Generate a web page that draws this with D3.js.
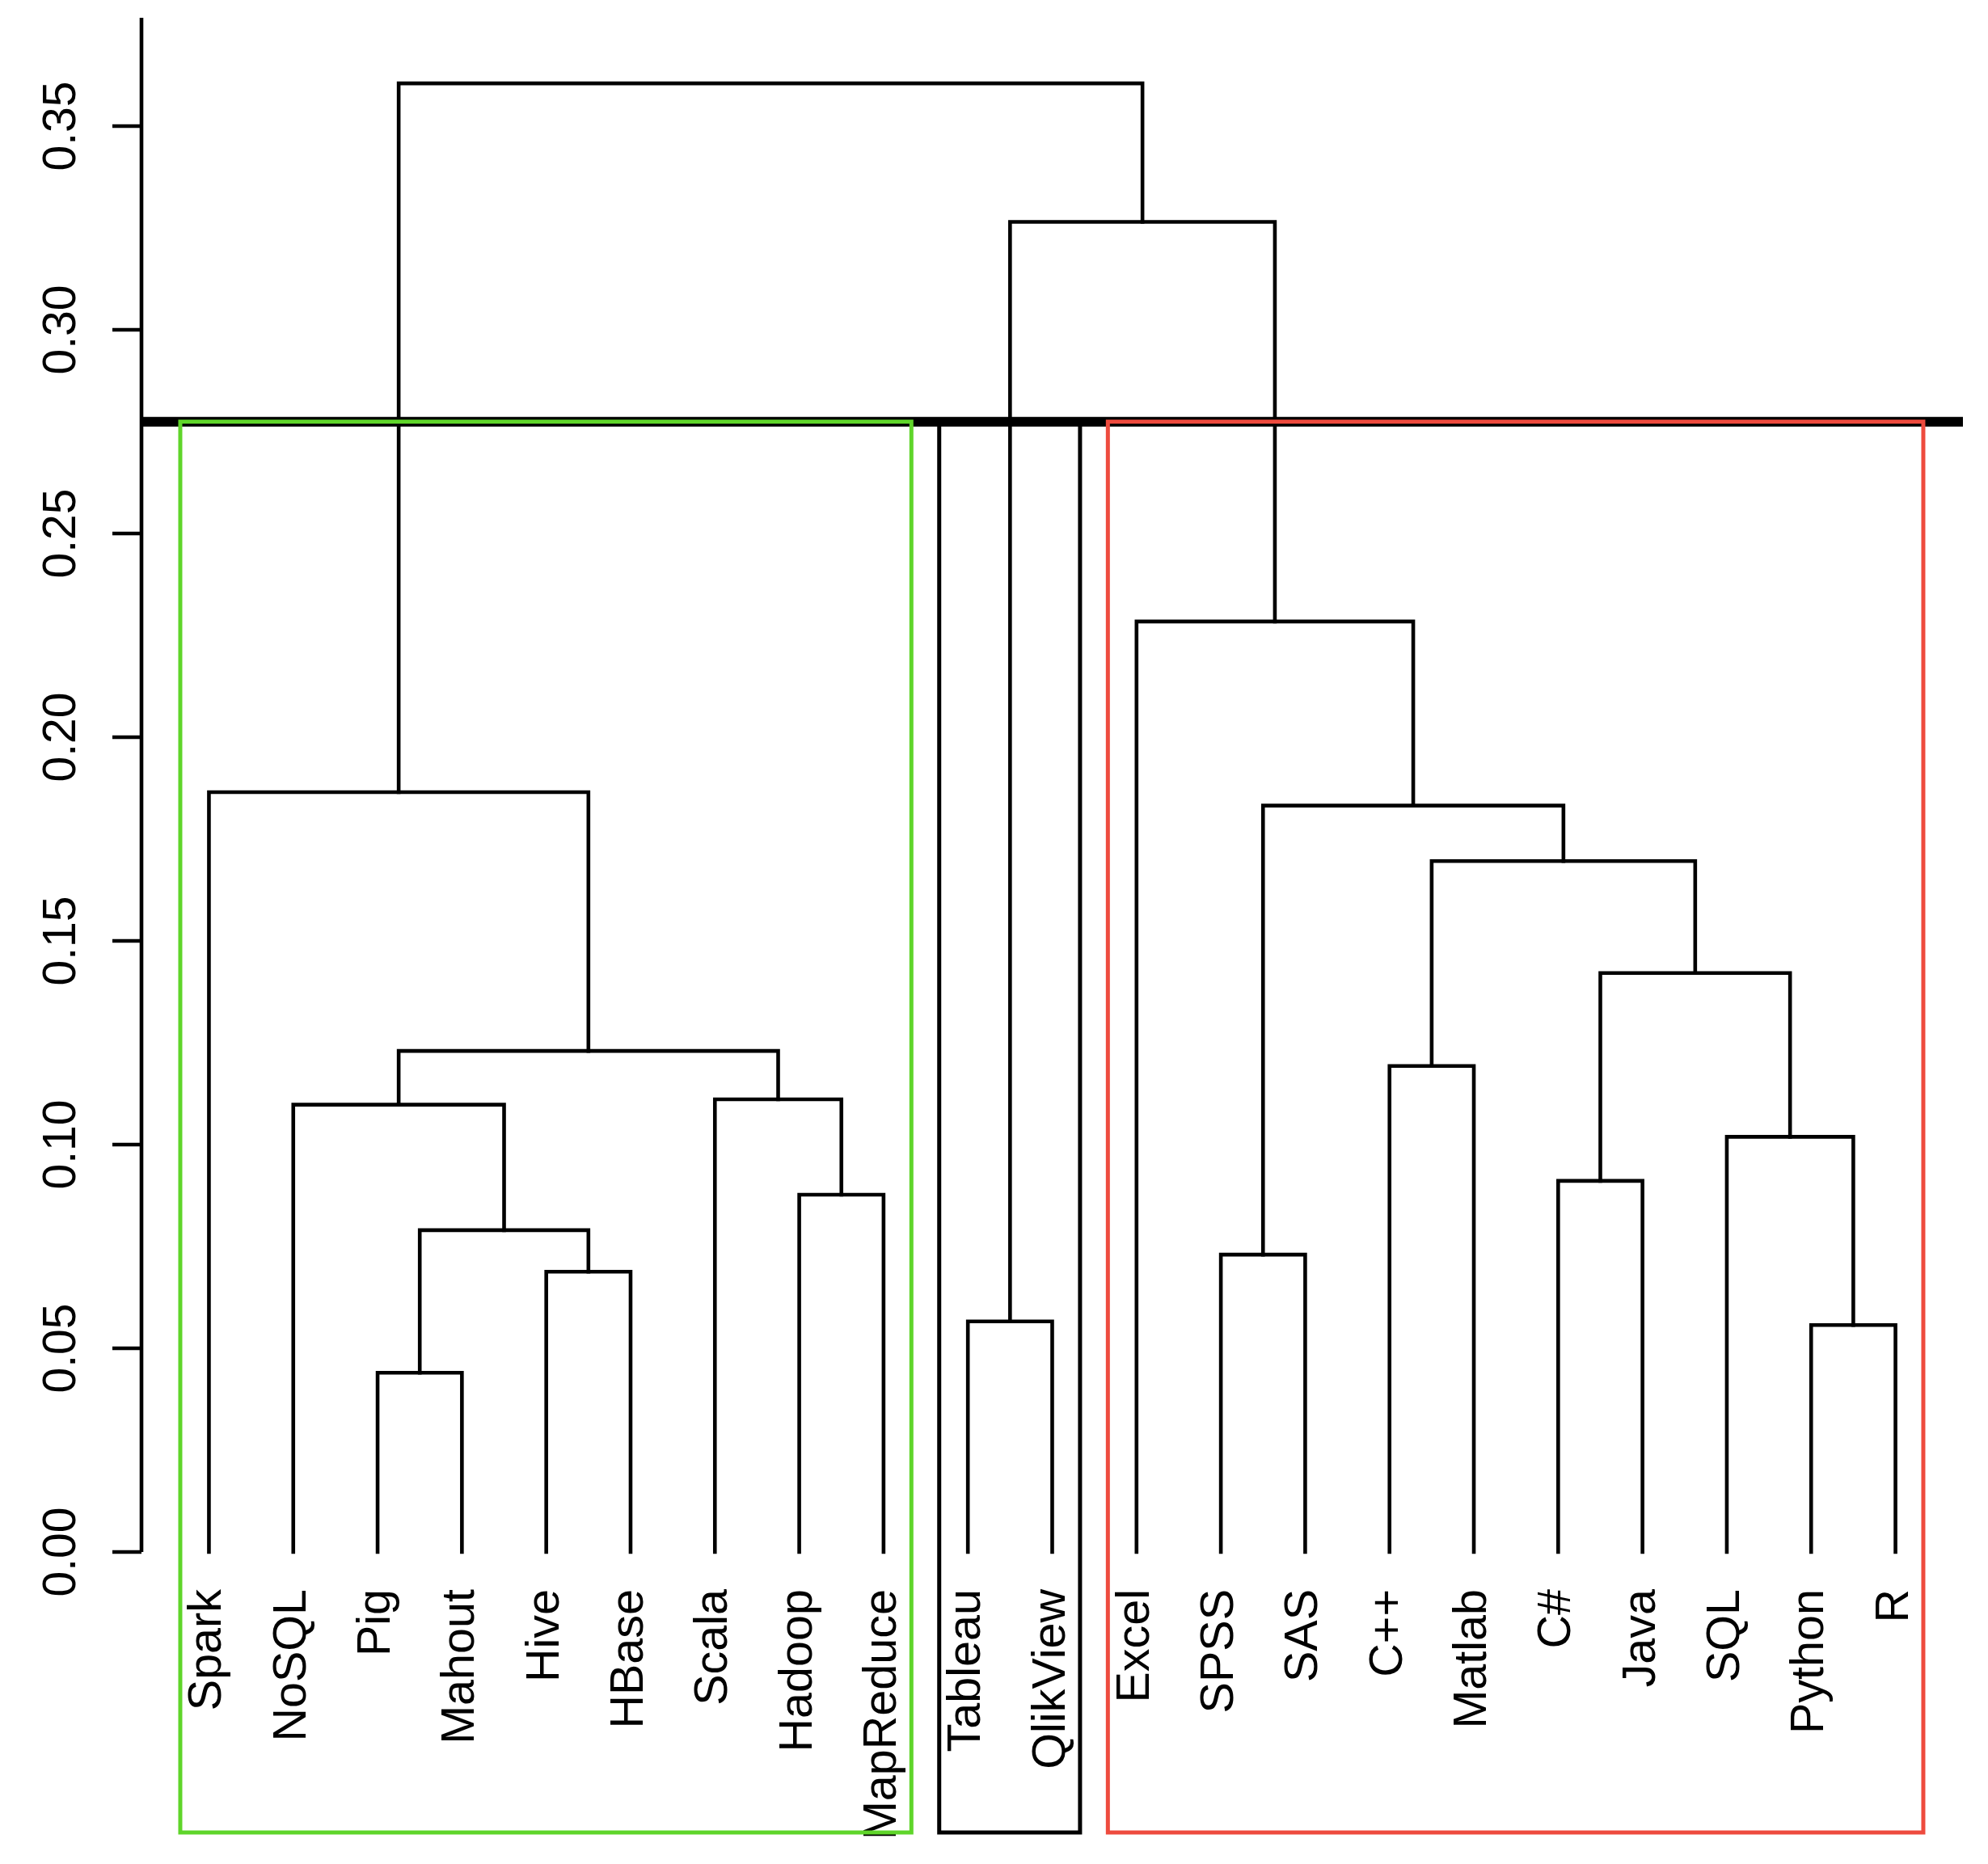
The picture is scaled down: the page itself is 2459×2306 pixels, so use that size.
<!DOCTYPE html>
<html>
<head>
<meta charset="utf-8">
<script src="https://cdn.jsdelivr.net/npm/d3@7"></script>
<style>
  html, body { margin: 0; padding: 0; background: #fff; }
  svg { display: block; }
  text { font-family: "Liberation Sans", Arial, Helvetica, sans-serif; fill: #000; }
</style>
</head>
<body>
<script>
// ---- Data ----
const labels = ["Spark","NoSQL","Pig","Mahout","Hive","HBase","Scala","Hadoop","MapReduce",
                "Tableau","QlikView","Excel","SPSS","SAS","C++","Matlab","C#","Java","SQL","Python","R"];
// R hclust-style merge table: negative = leaf (1-based), positive = earlier merge step
const mergeLeft  = [-3, -20, -10, -5, -13, 1, -8, -17, -19, -2, -7, -15, 10,  8, 12,  5, -1, -12,  3, 17];
const mergeRight = [-4, -21, -11, -6, -14, 4, -9, -18,   2,  6,  7, -16, 11,  9, 14, 15, 13,  16, 18, 19];
const mergeHeight = [0.0440, 0.0557, 0.0566, 0.0688, 0.0730, 0.0790, 0.0877, 0.0911, 0.1019, 0.1098,
                     0.1111, 0.1193, 0.1230, 0.1421, 0.1696, 0.1832, 0.1865, 0.2284, 0.3265, 0.3605];
const yTicks = [0.00, 0.05, 0.10, 0.15, 0.20, 0.25, 0.30, 0.35];
const clusterSizes = [9, 2, 10];
const clusterColors = ["#5FD52A", "#000000", "#EE4B3E"];

// ---- Layout ----
const W = 2459, H = 2306;
const plotLeft = 175, plotRight = 2428, plotBottom = 2267, axisTop = 22;
const x = d3.scaleLinear().domain([0.2, labels.length + 0.8]).range([plotLeft, plotRight]);
const y = d3.scaleLinear().domain([0, 0.35]).range([1920, 156]);

const svg = d3.select("body").append("svg").attr("width", W).attr("height", H);
svg.append("rect").attr("width", W).attr("height", H).attr("fill", "#fff");

// ---- Dendrogram ----
const nodeX = [], nodeH = [];
function childPos(c) {
  return c < 0 ? { x: -c, h: 0 } : { x: nodeX[c - 1], h: nodeH[c - 1] };
}
const g = svg.append("g").attr("fill", "none").attr("stroke", "#000").attr("stroke-width", 4.6)
  .attr("stroke-linejoin", "miter").attr("stroke-linecap", "square");
mergeHeight.forEach((h, i) => {
  const a = childPos(mergeLeft[i]), b = childPos(mergeRight[i]);
  nodeX.push((a.x + b.x) / 2);
  nodeH.push(h);
  const p = d3.path();
  p.moveTo(x(a.x), y(a.h));
  p.lineTo(x(a.x), y(h));
  p.lineTo(x(b.x), y(h));
  p.lineTo(x(b.x), y(b.h));
  g.append("path").attr("d", p.toString());
});

// ---- Y axis ----
const axisG = svg.append("g");
axisG.append("line").attr("x1", plotLeft).attr("x2", plotLeft)
  .attr("y1", axisTop).attr("y2", y(0)).attr("stroke", "#000").attr("stroke-width", 4.6);
yTicks.forEach(t => {
  axisG.append("line").attr("x1", plotLeft - 36).attr("x2", plotLeft)
    .attr("y1", y(t)).attr("y2", y(t)).attr("stroke", "#000").attr("stroke-width", 4.6);
  axisG.append("text")
    .attr("transform", `translate(93,${y(t)}) rotate(-90)`)
    .attr("text-anchor", "middle")
    .attr("font-size", 57)
    .text(d3.format(".2f")(t));
});

// ---- Leaf labels ----
labels.forEach((lab, i) => {
  svg.append("text")
    .attr("transform", `translate(${x(i + 1) + 15},1966) rotate(-90)`)
    .attr("text-anchor", "end")
    .attr("font-size", 57.5)
    .text(lab);
});

// ---- Cut line ----
const k = clusterSizes.length;
const sortedH = mergeHeight.slice().sort((a, b) => b - a);
const cutH = (sortedH[k - 2] + sortedH[k - 1]) / 2;
svg.append("line").attr("x1", plotLeft).attr("x2", plotRight)
  .attr("y1", y(cutH)).attr("y2", y(cutH)).attr("stroke", "#000").attr("stroke-width", 12);

// ---- Cluster rectangles ----
let start = 0;
clusterSizes.forEach((s, i) => {
  const x0 = x(start + 0.66), x1 = x(start + s + 0.33);
  svg.append("rect")
    .attr("x", x0).attr("y", y(cutH))
    .attr("width", x1 - x0).attr("height", plotBottom - y(cutH))
    .attr("fill", "none").attr("stroke", clusterColors[i]).attr("stroke-width", 5);
  start += s;
});
</script>
</body>
</html>
